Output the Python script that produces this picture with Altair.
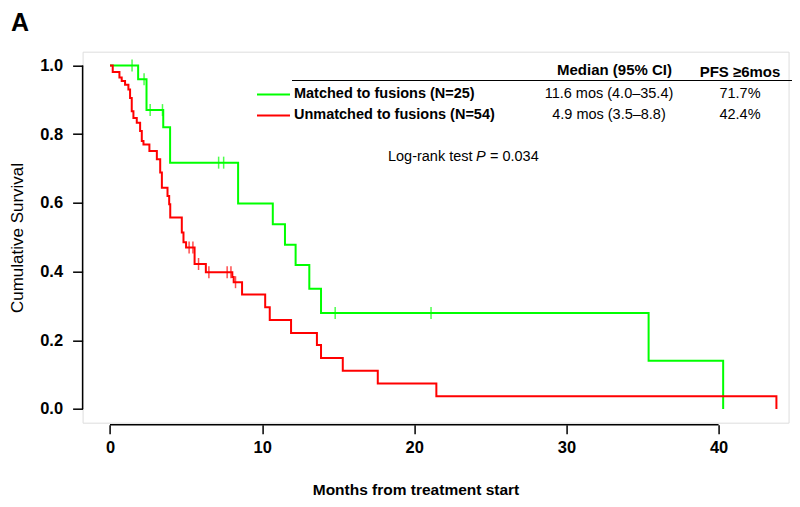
import altair as alt
import pandas as pd

# ---------------- data ----------------
green_t = [0, 1.85, 2.4, 3.5, 3.95, 8.42, 10.7, 11.5, 12.2, 13.1, 13.87, 35.4, 40.3]
green_s = [1.0, 0.96, 0.87, 0.82, 0.717, 0.598, 0.538, 0.478, 0.419, 0.35, 0.279, 0.14, 0.0]
green_cens_t = [1.45, 2.24, 2.64, 3.45, 7.14, 7.47, 14.8, 21.1]
green_cens_s = [1.0, 0.96, 0.87, 0.87, 0.717, 0.717, 0.279, 0.279]

red_t = [0, 0.18, 0.62, 0.77, 0.99, 1.21, 1.32, 1.43, 1.54, 1.76, 1.98, 2.09, 2.2, 2.59,
         3.08, 3.3, 3.41, 3.78, 3.89, 3.96, 4.72, 4.83, 5.0, 5.56, 6.3, 8.04, 8.13, 8.68,
         10.2, 10.5, 11.9, 13.6, 13.87, 15.3, 17.6, 21.45, 43.8]
red_s = [1.0, 0.981, 0.965, 0.955, 0.944, 0.930, 0.905, 0.867, 0.847, 0.833, 0.809, 0.78,
         0.77, 0.751, 0.727, 0.688, 0.644, 0.62, 0.596, 0.557, 0.514, 0.485, 0.470, 0.422,
         0.398, 0.384, 0.369, 0.333, 0.296, 0.259, 0.221, 0.186, 0.148, 0.111, 0.074, 0.037, 0.0]
red_cens_t = [5.2, 5.45, 5.82, 6.5, 7.7, 7.95, 8.25]
red_cens_s = [0.47, 0.47, 0.422, 0.398, 0.398, 0.398, 0.369]

groups = ["Matched to fusions (N=25)", "Unmatched to fusions (N=54)"]
colors = ["#00FF00", "#FF0000"]
medians = ["11.6 mos (4.0\u201335.4)", "4.9 mos (3.5\u20138.8)"]
pfs6 = ["71.7%", "42.4%"]
x_ticks = [0, 10, 20, 30, 40]
y_ticks = [0.0, 0.2, 0.4, 0.6, 0.8, 1.0]

curves = pd.DataFrame({
    "t": green_t + red_t,
    "s": green_s + red_s,
    "g": [groups[0]] * len(green_t) + [groups[1]] * len(red_t),
})
cens = pd.DataFrame({
    "t": green_cens_t + red_cens_t,
    "s": green_cens_s + red_cens_s,
    "g": [groups[0]] * len(green_cens_t) + [groups[1]] * len(red_cens_t),
})

# ---------------- layout ----------------
W, H = 706, 371
FONT = "Liberation Sans"
xs = alt.Scale(domain=[-1.8, 44.6], nice=False, zero=False)
ys = alt.Scale(domain=[-0.04, 1.04], nice=False, zero=False)
cs = alt.Scale(domain=groups, range=colors)

xaxis = alt.Axis(values=x_ticks, domain=False, grid=False, tickSize=9, tickWidth=1.5,
                 tickColor="black", labelFont=FONT, labelFontSize=16.5, labelFontWeight="bold",
                 labelColor="black", labelPadding=6, offset=2, title=None, format="d")
yaxis = alt.Axis(values=y_ticks, domain=False, grid=False, tickSize=10, tickWidth=1.5,
                 tickColor="black", labelFont=FONT, labelFontSize=16.5, labelFontWeight="bold",
                 labelColor="black", labelPadding=10, title=None, format=".1f")

X = alt.X("t:Q", scale=xs, axis=xaxis)
Y = alt.Y("s:Q", scale=ys, axis=yaxis)

lines = alt.Chart(curves).mark_line(interpolate="step-after", strokeWidth=2).encode(
    x=X, y=Y, color=alt.Color("g:N", scale=cs, legend=None), detail="g:N")

ticks = alt.Chart(cens).mark_tick(orient="vertical", size=12, thickness=1.5).encode(
    x=X, y=Y, color=alt.Color("g:N", scale=cs, legend=None))

one = alt.Data(values=[{"a": 1}])

yline = alt.Chart(one).mark_rule(color="black", strokeWidth=1.5).encode(
    x=alt.value(0), y=alt.datum(0.0), y2=alt.datum(1.0))
xline = alt.Chart(one).mark_rule(color="black", strokeWidth=1.5).encode(
    x=alt.datum(0), x2=alt.datum(40), y=alt.value(H + 2))


def txt(s, x, y, size=14.5, weight="normal", align="left", style="normal", angle=0,
        baseline="middle"):
    return alt.Chart(one).mark_text(
        text=s, font=FONT, fontSize=size, fontWeight=weight, align=align,
        baseline=baseline, fontStyle=style, angle=angle, color="black",
    ).encode(x=alt.value(x), y=alt.value(y))


ox, oy = 82.6, 51.7  # page position of the plot origin
layers = [lines, ticks, yline, xline]

# table header / legend
layers.append(txt("Median (95% CI)", 614.5 - ox, 70 - oy, size=15, weight="bold", align="center"))
layers.append(txt("PFS \u22656mos", 740 - ox, 72 - oy, size=15, weight="bold", align="center"))
layers.append(alt.Chart(one).mark_rule(color="black", strokeWidth=1.2).encode(
    x=alt.value(292 - ox), x2=alt.value(792 - ox), y=alt.value(80.5 - oy)))
for i, yy in enumerate([94.5, 115.5]):
    layers.append(alt.Chart(one).mark_rule(color=colors[i], strokeWidth=2).encode(
        x=alt.value(257 - ox), x2=alt.value(290 - ox), y=alt.value(yy - oy)))
    layers.append(txt(groups[i], 294 - ox, yy - oy, weight="bold"))
    layers.append(txt(medians[i], 609 - ox, yy - oy, align="center"))
    layers.append(txt(pfs6[i], 740 - ox, yy - oy, align="center"))

# log-rank annotation
layers.append(txt("Log-rank test", 388 - ox, 157 - oy))
layers.append(txt("P", 476 - ox, 157 - oy, style="italic"))
layers.append(txt("= 0.034", 490 - ox, 157 - oy))

# axis titles and panel letter
layers.append(txt("Cumulative Survival", 18 - ox, 238 - oy, size=17, align="center", angle=270))
layers.append(txt("Months from treatment start", 416 - ox, 490 - oy, size=15.5, weight="bold",
                  align="center"))
layers.append(txt("A", 11 - ox, 11 - oy, size=25, weight="bold", baseline="top"))

chart = alt.layer(*layers).properties(
    width=W, height=H,
    autosize=alt.AutoSizeParams(type="none"),
    padding={"left": ox - 8, "top": oy - 8, "right": 3, "bottom": 76},
).configure_view(stroke=None).configure(background="white")

chart.save("out.html", embed_options={"renderer": "svg", "actions": False})
